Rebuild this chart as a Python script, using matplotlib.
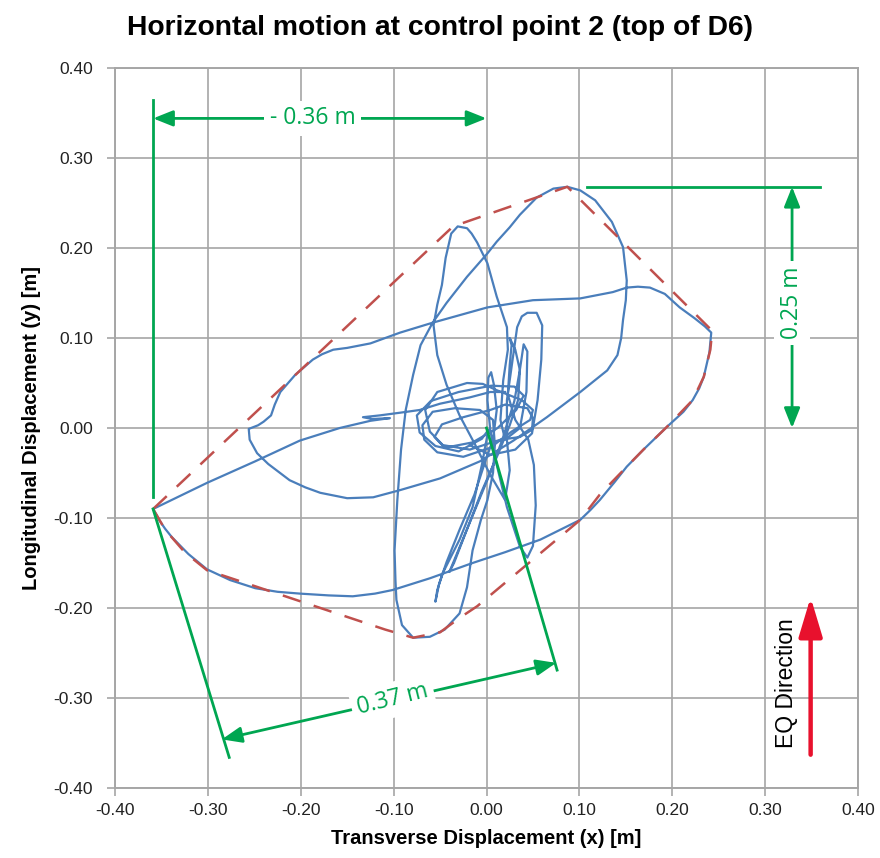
import numpy as np
import matplotlib
matplotlib.use('Agg')
import matplotlib.pyplot as plt
from matplotlib.ticker import MultipleLocator, FormatStrFormatter

plt.rcParams['font.family'] = ['Liberation Sans', 'DejaVu Sans']

# --- measured horizontal path of control point 2 [m], (x, y) in time order ---
path_center_out = [(0.020, 0.040), (0.004, 0.040), (-0.018, 0.034), (-0.050, 0.027),
                   (-0.072, 0.020), (-0.093, 0.017), (-0.115, 0.014), (-0.133, 0.012),
                   (-0.123, 0.010), (-0.104, 0.011), (-0.125, 0.008), (-0.158, 0.000),
                   (-0.201, -0.014), (-0.249, -0.037), (-0.301, -0.061), (-0.335, -0.078),
                   (-0.359, -0.090)]
path_bottom = [(-0.355, -0.097), (-0.352, -0.103), (-0.346, -0.112), (-0.339, -0.121),
               (-0.321, -0.140), (-0.301, -0.157), (-0.276, -0.169), (-0.249, -0.178),
               (-0.225, -0.182), (-0.201, -0.184), (-0.170, -0.186), (-0.144, -0.187),
               (-0.120, -0.184), (-0.101, -0.180), (-0.061, -0.167), (-0.015, -0.150),
               (0.020, -0.138), (0.058, -0.124), (0.101, -0.102)]
path_right_top = [(0.112, -0.091), (0.122, -0.080), (0.138, -0.060), (0.151, -0.043),
                  (0.169, -0.024), (0.194, 0.001), (0.212, 0.018), (0.222, 0.031),
                  (0.229, 0.044), (0.234, 0.057), (0.240, 0.084), (0.242, 0.106),
                  (0.235, 0.113), (0.224, 0.122), (0.208, 0.134), (0.192, 0.149),
                  (0.176, 0.156), (0.163, 0.157), (0.151, 0.156), (0.136, 0.151),
                  (0.101, 0.144), (0.050, 0.142), (0.001, 0.134), (-0.058, 0.117),
                  (-0.093, 0.106), (-0.125, 0.094), (-0.150, 0.089), (-0.165, 0.087),
                  (-0.177, 0.082), (-0.187, 0.076), (-0.206, 0.059), (-0.222, 0.040),
                  (-0.228, 0.026), (-0.232, 0.014), (-0.240, 0.007), (-0.246, 0.003),
                  (-0.256, -0.001)]
path_inner = [(-0.255, -0.013), (-0.247, -0.028), (-0.235, -0.040), (-0.212, -0.058),
              (-0.195, -0.066), (-0.179, -0.072), (-0.150, -0.078), (-0.122, -0.077),
              (-0.093, -0.069), (-0.050, -0.056), (-0.007, -0.037), (0.029, -0.014),
              (0.065, 0.012), (0.101, 0.040), (0.130, 0.064), (0.141, 0.081),
              (0.145, 0.100), (0.147, 0.120), (0.150, 0.142), (0.151, 0.164),
              (0.147, 0.201), (0.135, 0.229), (0.117, 0.253), (0.101, 0.264),
              (0.087, 0.268), (0.072, 0.266), (0.054, 0.256), (0.036, 0.237),
              (0.025, 0.223), (0.011, 0.207), (0.001, 0.194), (-0.021, 0.168),
              (-0.043, 0.139), (-0.058, 0.117), (-0.071, 0.092), (-0.079, 0.059),
              (-0.087, 0.020), (-0.092, -0.024), (-0.096, -0.080), (-0.099, -0.136),
              (-0.098, -0.170), (-0.097, -0.191), (-0.091, -0.219), (-0.079, -0.233),
              (-0.061, -0.232), (-0.045, -0.224), (-0.029, -0.206), (-0.021, -0.177),
              (-0.015, -0.136), (-0.006, -0.102), (0.001, -0.080), (0.007, -0.050),
              (0.009, -0.019), (0.007, 0.009)]
path_small_loops = [(-0.007, 0.020), (-0.034, 0.022), (-0.058, 0.018), (-0.069, 0.003),
                    (-0.067, -0.013), (-0.053, -0.027), (-0.025, -0.032), (0.004, -0.022),
                    (0.027, -0.004), (0.047, 0.009), (0.050, 0.020), (0.038, 0.031),
                    (0.011, 0.042), (-0.004, 0.049), (-0.021, 0.050), (-0.053, 0.040),
                    (-0.066, 0.020), (-0.061, -0.004), (-0.047, -0.019), (-0.018, -0.024),
                    (0.015, -0.013), (0.036, -0.010), (0.049, -0.002), (0.050, 0.011),
                    (0.044, 0.022), (0.020, 0.026), (0.004, 0.020), (-0.025, 0.012),
                    (-0.048, 0.004), (-0.056, -0.010), (-0.045, -0.022), (-0.015, -0.016),
                    (0.012, 0.000), (0.032, 0.020), (0.040, 0.036), (0.030, 0.046),
                    (0.005, 0.047), (-0.030, 0.040), (-0.060, 0.030), (-0.075, 0.014),
                    (-0.072, -0.005), (-0.055, -0.020), (-0.030, -0.026), (-0.005, -0.012)]
path_spikes = [(0.002, -0.002), (-0.005, -0.041), (-0.015, -0.088), (-0.029, -0.124),
               (-0.047, -0.161), (-0.053, -0.180), (-0.055, -0.193), (-0.051, -0.173),
               (-0.043, -0.149), (-0.029, -0.113), (-0.013, -0.074), (-0.001, -0.036),
               (0.007, -0.013), (0.011, 0.020), (0.008, 0.048), (0.005, 0.062),
               (0.002, 0.056), (0.001, 0.031), (0.004, -0.002), (0.011, -0.041),
               (0.022, -0.088), (0.036, -0.132), (0.044, -0.144), (0.050, -0.131),
               (0.053, -0.086), (0.051, -0.041), (0.045, -0.013), (0.031, 0.009),
               (0.023, 0.037), (0.025, 0.070), (0.027, 0.092), (0.025, 0.100),
               (0.031, 0.087), (0.036, 0.064), (0.034, 0.031), (0.025, 0.003),
               (0.012, -0.030), (-0.005, -0.070), (-0.020, -0.110), (-0.035, -0.150),
               (-0.040, -0.160), (-0.030, -0.135), (-0.012, -0.090), (0.004, -0.050),
               (0.018, -0.010), (0.030, 0.030), (0.036, 0.065), (0.040, 0.093),
               (0.044, 0.085), (0.043, 0.040), (0.036, 0.000)]
path_narrow = [(0.020, -0.013), (0.015, 0.009), (0.018, 0.053), (0.023, 0.087),
               (0.022, 0.112), (0.011, 0.146), (0.001, 0.183), (-0.010, 0.206),
               (-0.016, 0.216), (-0.021, 0.222), (-0.031, 0.224), (-0.038, 0.216),
               (-0.044, 0.189), (-0.048, 0.159), (-0.053, 0.137), (-0.057, 0.114),
               (-0.053, 0.081), (-0.043, 0.048), (-0.029, 0.014), (-0.012, -0.019),
               (0.004, -0.052), (0.020, -0.080), (0.025, -0.047), (0.022, -0.013),
               (0.022, 0.031), (0.027, 0.068), (0.033, 0.112), (0.038, 0.124),
               (0.044, 0.128), (0.054, 0.128), (0.060, 0.114), (0.059, 0.076),
               (0.055, 0.031), (0.049, -0.006), (0.031, -0.024), (0.004, -0.030),
               (-0.018, -0.019)]

# envelope of the motion (dashed)
hull_x = [-0.359, -0.036, 0.087, 0.243, 0.241, 0.234, 0.222, 0.194, 0.169, 0.151,
          0.122, 0.101, -0.010, -0.029, -0.050, -0.079, -0.109, -0.301, -0.325,
          -0.346, -0.359]
hull_y = [-0.090, 0.224, 0.268, 0.108, 0.087, 0.057, 0.031, 0.001, -0.024, -0.043,
          -0.074, -0.102, -0.198, -0.211, -0.227, -0.233, -0.224, -0.158, -0.138,
          -0.113, -0.090]

# dimension lines
x_min_disp = -0.359
y_max_disp = 0.268
dim_x_y = 0.344
dim_y_x = 0.329
diag_left = [(-0.359, -0.090), (-0.277, -0.366)]
diag_right = [(0.0, 0.0), (0.076, -0.269)]
dim_diag = [(-0.285, -0.346), (0.075, -0.261)]
label_x = '- 0.36 m'
label_y = '0.25 m'
label_diag = '0.37 m'
eq_arrow = [(0.349, -0.363), (0.349, -0.188)]

blue = '#4a7ebb'
red = '#c0504d'
green = '#00a651'
grid_c = '#a6a6a6'

fig = plt.figure(figsize=(8.8, 8.58), dpi=100)
ax = fig.add_axes([115 / 880, 1 - 788 / 858, 743 / 880, 720 / 858])

path = np.array(path_center_out + path_bottom + path_right_top + path_inner
                + path_small_loops + path_spikes + path_narrow)
ax.plot(path[:, 0], path[:, 1], color=blue, lw=1.6, solid_joinstyle='round', zorder=3)
ax.plot(hull_x, hull_y, color=red, lw=1.8, dashes=(7.5, 5.5), zorder=4)

# green dimension annotations
ax.plot([x_min_disp, x_min_disp], [0.364, -0.077], color=green, lw=2, zorder=5)
ax.plot([0.108, 0.359], [y_max_disp, y_max_disp], color=green, lw=2, zorder=5)
for seg in (diag_left, diag_right):
    ax.plot([seg[0][0], seg[1][0]], [seg[0][1], seg[1][1]], color=green, lw=2, zorder=5)

astyle = dict(arrowstyle='<|-|>,head_length=0.8,head_width=0.32', color=green, lw=2,
              mutation_scale=15, shrinkA=0, shrinkB=0)
ax.annotate('', xy=(x_min_disp, dim_x_y), xytext=(0.0, dim_x_y), arrowprops=astyle, zorder=5)
ax.annotate('', xy=(dim_y_x, y_max_disp), xytext=(dim_y_x, 0.0), arrowprops=astyle, zorder=5)
ax.annotate('', xy=dim_diag[0], xytext=dim_diag[1], arrowprops=astyle, zorder=5)

tkw = dict(family=['Open Sans', 'DejaVu Sans'], fontsize=16.5, color=green,
           ha='center', va='center', zorder=6,
           bbox=dict(boxstyle='square,pad=0.25', fc='white', ec='none'))
ax.text(-0.187, dim_x_y, label_x, **tkw)
ax.text(dim_y_x, 0.139, label_y, rotation=90, **tkw)
ax.text(-0.101, -0.302, label_diag, rotation=14, **tkw)

# earthquake direction
ax.annotate('', xy=eq_arrow[1], xytext=eq_arrow[0],
            arrowprops=dict(arrowstyle='-|>,head_length=1.2,head_width=0.36',
                            color='#e8112d', lw=3.2, mutation_scale=20,
                            shrinkA=0, shrinkB=0), zorder=6)
ax.text(0.323, -0.284, 'EQ Direction', rotation=90, fontsize=16.5, color='black',
        ha='center', va='center', zorder=6)

ax.set_xlim(-0.4, 0.4)
ax.set_ylim(-0.4, 0.4)
ax.xaxis.set_major_locator(MultipleLocator(0.1))
ax.yaxis.set_major_locator(MultipleLocator(0.1))
ax.xaxis.set_major_formatter(FormatStrFormatter('%.2f'))
ax.yaxis.set_major_formatter(FormatStrFormatter('%.2f'))
ax.grid(True, color=grid_c, lw=1.2, zorder=0)
ax.set_axisbelow(True)
for sp in ax.spines.values():
    sp.set_color(grid_c)
    sp.set_linewidth(1.4)
ax.tick_params(direction='out', length=6, width=1.2, color=grid_c, labelsize=12.5,
               labelcolor='#222222')
ax.tick_params(axis='x', pad=5)
ax.tick_params(axis='y', pad=10)

ax.set_xlabel('Transverse Displacement (x) [m]', fontsize=14.5, fontweight='bold', labelpad=8)
ax.set_ylabel('Longitudinal Displacement (y) [m]', fontsize=14.5, fontweight='bold', labelpad=9)
fig.text(0.5, 1 - 28 / 858, 'Horizontal motion at control point 2 (top of D6)',
         ha='center', va='center', fontsize=20.3, fontweight='bold')

fig.savefig('out.png', dpi=100)
